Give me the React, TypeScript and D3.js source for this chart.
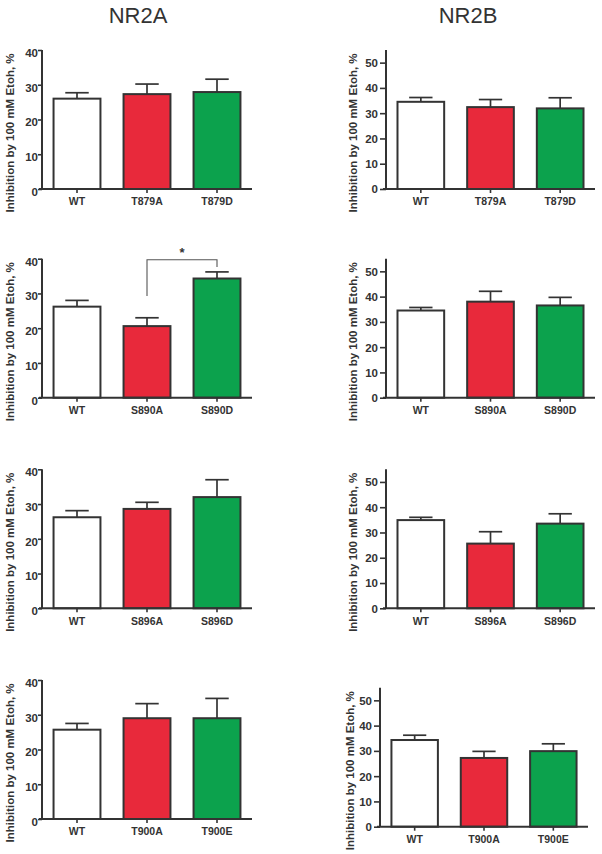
import React, { useEffect, useRef } from "react";
import * as d3 from "d3";

const colTitles = ["NR2A", "NR2B"];
const yLabel = "Inhibition by 100 mM Etoh, %";

const row1Cats = ["WT", "T879A", "T879D"];
const row2Cats = ["WT", "S890A", "S890D"];
const row3Cats = ["WT", "S896A", "S896D"];
const row4Cats = ["WT", "T900A", "T900E"];

const nr2aRow1 = [26.0, 27.3, 27.9];
const nr2aRow1Sem = [1.7, 2.9, 3.7];
const nr2aRow2 = [26.2, 20.6, 34.3];
const nr2aRow2Sem = [1.8, 2.4, 1.9];
const nr2aRow3 = [26.2, 28.6, 32.0];
const nr2aRow3Sem = [1.9, 1.9, 5.0];
const nr2aRow4 = [25.7, 29.0, 29.0];
const nr2aRow4Sem = [1.8, 4.2, 5.7];

const nr2bRow1 = [34.5, 32.4, 31.9];
const nr2bRow1Sem = [1.7, 3.0, 4.2];
const nr2bRow2 = [34.5, 38.0, 36.5];
const nr2bRow2Sem = [1.2, 4.1, 3.2];
const nr2bRow3 = [34.9, 25.6, 33.5];
const nr2bRow3Sem = [1.1, 4.7, 3.9];
const nr2bRow4 = [34.3, 27.2, 29.9];
const nr2bRow4Sem = [1.9, 2.6, 2.9];

const nr2aTicks = [0, 10, 20, 30, 40];
const nr2bTicks = [0, 10, 20, 30, 40, 50];
const nr2aMax = 40;
const nr2bMax = 55;

const barColors = ["#ffffff", "#e8293b", "#0ca24d"];

export default function App() {
  const ref = useRef<SVGSVGElement>(null);
  useEffect(() => {
    const svg = d3.select(ref.current);
    svg.selectAll("*").remove();
    const font = "'Liberation Sans', Arial, sans-serif";
    const ink = "#333333";

    const panels = [
      { cats: row1Cats, v: nr2aRow1, e: nr2aRow1Sem, left: true, x0: 42, x1: 252, y0: 189 },
      { cats: row2Cats, v: nr2aRow2, e: nr2aRow2Sem, left: true, x0: 42, x1: 252, y0: 397.7, sig: [1, 2] },
      { cats: row3Cats, v: nr2aRow3, e: nr2aRow3Sem, left: true, x0: 42, x1: 252, y0: 608.3 },
      { cats: row4Cats, v: nr2aRow4, e: nr2aRow4Sem, left: true, x0: 42, x1: 252, y0: 819 },
      { cats: row1Cats, v: nr2bRow1, e: nr2bRow1Sem, left: false, x0: 386, x1: 595, y0: 189 },
      { cats: row2Cats, v: nr2bRow2, e: nr2bRow2Sem, left: false, x0: 386, x1: 595, y0: 397.7 },
      { cats: row3Cats, v: nr2bRow3, e: nr2bRow3Sem, left: false, x0: 386, x1: 595, y0: 608.3 },
      { cats: row4Cats, v: nr2bRow4, e: nr2bRow4Sem, left: false, x0: 380, x1: 588, y0: 826.7 },
    ];
    const H = 139;

    svg.append("text").attr("x", 138).attr("y", 23).attr("text-anchor", "middle")
      .attr("font-family", font).attr("font-size", 22).attr("fill", ink).text(colTitles[0]);
    svg.append("text").attr("x", 468).attr("y", 23).attr("text-anchor", "middle")
      .attr("font-family", font).attr("font-size", 22).attr("fill", ink).text(colTitles[1]);

    panels.forEach((p: any) => {
      const max = p.left ? nr2aMax : nr2bMax;
      const ticks = p.left ? nr2aTicks : nr2bTicks;
      const y = d3.scaleLinear().domain([0, max]).range([p.y0, p.y0 - H]);
      const x = d3.scaleBand().domain(p.cats).range([p.x0, p.x1]).paddingInner(0.33).paddingOuter(0.165);
      const g = svg.append("g");

      p.cats.forEach((c: string, i: number) => {
        const bx = x(c)!;
        const bw = x.bandwidth();
        const top = y(p.v[i]);
        const et = y(p.v[i] + p.e[i]);
        const cx = bx + bw / 2;
        g.append("line").attr("x1", cx).attr("x2", cx).attr("y1", top).attr("y2", et)
          .attr("stroke", ink).attr("stroke-width", 1.7);
        g.append("line").attr("x1", cx - bw / 4).attr("x2", cx + bw / 4).attr("y1", et).attr("y2", et)
          .attr("stroke", ink).attr("stroke-width", 1.7);
        g.append("rect").attr("x", bx).attr("y", top).attr("width", bw).attr("height", p.y0 - top)
          .attr("fill", barColors[i]).attr("stroke", ink).attr("stroke-width", 2);
      });

      const yAxis = d3.axisLeft(y).tickValues(ticks).tickSize(p.left ? 4 : 6)
        .tickPadding(p.left ? 0 : 2).tickFormat(d3.format("d") as any);
      const ya = g.append("g").attr("transform", `translate(${p.x0},0)`).call(yAxis);
      ya.select(".domain").attr("stroke", ink).attr("stroke-width", 2)
        .attr("d", `M0,${p.y0}V${y(max)}`);
      ya.selectAll(".tick line").attr("stroke", ink).attr("stroke-width", 1.6);
      ya.selectAll(".tick text").attr("font-family", font).attr("font-size", 11.5)
        .attr("font-weight", "bold").attr("fill", ink)
        .attr("dy", p.left ? "0.55em" : "0.34em");

      const xAxis = d3.axisBottom(x).tickSize(4).tickPadding(3);
      const xa = g.append("g").attr("transform", `translate(0,${p.y0})`).call(xAxis);
      xa.select(".domain").attr("stroke", ink).attr("stroke-width", 2)
        .attr("d", `M${p.x0 - 3},0H${p.x1}`);
      xa.selectAll(".tick line").attr("stroke", ink).attr("stroke-width", 1.6);
      xa.selectAll(".tick text").attr("font-family", font).attr("font-size", 10.5)
        .attr("font-weight", "bold").attr("fill", ink).attr("dy", "0.9em");

      const lx = p.left ? 10 : (p.x0 === 380 ? 350 : 353);
      g.append("text").attr("transform", `translate(${lx},${p.y0 - 56}) rotate(-90)`)
        .attr("text-anchor", "middle").attr("dominant-baseline", "central")
        .attr("font-family", font).attr("font-size", 11.5).attr("font-weight", "bold")
        .attr("fill", ink).text(yLabel);

      if (p.sig) {
        const [a, b] = p.sig;
        const ax = x(p.cats[a])! + x.bandwidth() / 2;
        const bx2 = x(p.cats[b])! + x.bandwidth() / 2;
        const yTop = y(39.7);
        g.append("path")
          .attr("d", `M${ax},${y(29.3)}V${yTop}H${bx2}V${y(37.6)}`)
          .attr("fill", "none").attr("stroke", "#555").attr("stroke-width", 1.1);
        g.append("text").attr("x", (ax + bx2) / 2).attr("y", yTop - 3).attr("text-anchor", "middle")
          .attr("font-family", font).attr("font-size", 13).attr("font-weight", "bold")
          .attr("fill", ink).text("*");
      }
    });
  }, []);
  return (
    <svg ref={ref} width={602} height={854}
      style={{ position: "absolute", left: 0, top: 0, background: "#fff" }} />
  );
}
